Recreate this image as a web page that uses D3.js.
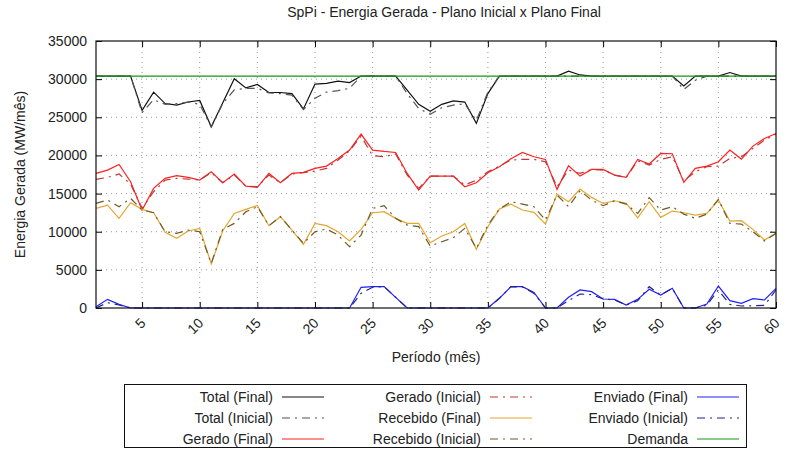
<!DOCTYPE html>
<html>
  <head>
    <meta charset="utf-8">
    <title>SpPi - Energia Gerada</title>
    <style>
      body { margin: 0; background: #fff; }
      text { font-family: "Liberation Sans", Arial, sans-serif; font-size: 14px; fill: #222; }
      .grid line { stroke: #999; stroke-width: 1px; stroke-dasharray: 1,4; }
      .serie { fill: none; stroke-width: 1.2px; }
    </style>
  </head>
  <body>
    <script src="https://d3js.org/d3.v7.min.js"></script>
    <script>
      const width = 791;
      const height = 466;
      const margin = { top: 41, right: 15, bottom: 158, left: 96 };

      // meses 1..60
      const meses = d3.range(1, 61);
      const xTicks = [5, 10, 15, 20, 25, 30, 35, 40, 45, 50, 55, 60];
      const yTicks = [0, 5000, 10000, 15000, 20000, 25000, 30000, 35000];

      const demanda = 30400;

      const totalFinal = [30400, 30400, 30400, 30400, 25900, 28300, 26800, 26600, 27000, 27200,
        23750, 26900, 30050, 28850, 29300, 28250, 28250, 28100, 26100, 29350,
        29450, 29750, 29550, 30400, 30400, 30400, 30400, 28550, 26700, 25800,
        26700, 27150, 27000, 24200, 28100, 30400, 30400, 30400, 30400, 30400,
        30400, 31050, 30550, 30400, 30400, 30400, 30400, 30400, 30400, 30400,
        30400, 29100, 30400, 30400, 30400, 30870, 30400, 30400, 30400, 30400];

      const totalInicial = [30400, 30400, 30400, 30400, 25600, 27300, 26700, 26800, 27000, 26700,
        23700, 26800, 28600, 28800, 28800, 28200, 28100, 27900, 26000, 27500,
        28300, 28500, 28800, 30400, 30400, 30400, 30400, 28100, 26150, 25400,
        26250, 26600, 26750, 24600, 28300, 30400, 30400, 30400, 30400, 30400,
        30400, 30400, 30400, 30400, 30400, 30400, 30400, 30400, 30400, 30400,
        30400, 28650, 29850, 30400, 30400, 30400, 30400, 30400, 30400, 30400];

      const geradoFinal = [17640, 18080, 18820, 16550, 12840, 15680, 16990, 17340, 17120, 16770,
        17860, 16420, 17560, 15980, 15810, 17640, 16420, 17640, 17770, 18300,
        18600, 19610, 20700, 22800, 20700, 20520, 20390, 17640, 15460, 17290,
        17290, 17290, 15900, 16420, 17730, 18520, 19560, 20390, 19830, 19480,
        15550, 18650, 17290, 18170, 18170, 17420, 17120, 19480, 18870, 20260,
        20220, 16460, 18300, 18600, 19170, 20700, 19520, 21220, 22230, 22880];

      const geradoInicial = [16860, 17120, 17560, 16250, 13060, 15240, 16770, 16990, 16900, 16770,
        17730, 16420, 17420, 15980, 15900, 17420, 16420, 17560, 17730, 17950,
        18300, 19390, 20610, 22530, 19960, 19830, 20180, 17420, 15680, 17290,
        17290, 17290, 16120, 16770, 17860, 18600, 19390, 19480, 19480, 19170,
        15900, 18080, 17640, 18170, 18080, 17420, 17120, 19300, 18740, 19480,
        19830, 16680, 17860, 18520, 18600, 19610, 19830, 20920, 22010, 22800];

      const recebidoFinal = [13060, 13490, 11750, 13800, 12930, 12490, 9910, 9130, 10090, 10440,
        5770, 10130, 12400, 12930, 13450, 10790, 11970, 10220, 8340, 11090,
        10790, 10000, 8780, 10310, 12490, 12620, 11750, 11090, 11090, 8560,
        9430, 10000, 11090, 7690, 10660, 12970, 13620, 12840, 12530, 11000,
        14930, 13930, 15590, 14500, 13710, 14060, 13710, 11830, 13930, 11880,
        12710, 12490, 12180, 12400, 14150, 11400, 11440, 10310, 8910, 9780];

      const recebidoInicial = [13710, 14150, 13280, 14370, 12840, 12490, 10000, 9780, 10220, 10000,
        5850, 10310, 11090, 12620, 13280, 10790, 11970, 10220, 8470, 10000,
        10350, 9560, 8030, 9560, 13060, 13410, 11750, 10870, 10660, 8120,
        8690, 9210, 10440, 7820, 10870, 12970, 13930, 13620, 13280, 11530,
        14800, 13280, 15370, 14150, 13410, 14060, 13620, 12400, 14460, 12840,
        13280, 12310, 11750, 12310, 14240, 11090, 11000, 10000, 8780, 9780];

      const enviadoFinal = [150, 1135, 480, 0, 0, 0, 0, 0, 0, 0,
        0, 0, 0, 0, 0, 0, 0, 0, 0, 0,
        0, 0, 0, 2710, 2800, 2800, 1400, 0, 0, 0,
        0, 0, 0, 0, 0, 1270, 2800, 2800, 2050, 0,
        0, 1400, 2360, 2140, 1180, 1135, 390, 1135, 2450, 1700,
        2580, 0, 0, 520, 2880, 960, 610, 1220, 1050, 2580];

      const enviadoInicial = [0, 700, 390, 0, 0, 0, 0, 0, 0, 0,
        0, 0, 0, 0, 0, 0, 0, 0, 0, 0,
        0, 0, 0, 1920, 2710, 2800, 1400, 0, 0, 0,
        0, 0, 0, 0, 0, 1270, 2800, 2750, 1920, 0,
        0, 960, 1830, 1750, 1180, 1050, 390, 960, 2800, 1700,
        2580, 0, 0, 390, 2360, 480, 260, 300, 350, 2360];

      const demandaSerie = meses.map(() => demanda);

      const dashDot = "8,5,2,5";
      const series = [
        { nome: "Total (Final)", valores: totalFinal, cor: "#111111", dash: null },
        { nome: "Total (Inicial)", valores: totalInicial, cor: "#555555", dash: dashDot },
        { nome: "Gerado (Final)", valores: geradoFinal, cor: "#ff2020", dash: null },
        { nome: "Gerado (Inicial)", valores: geradoInicial, cor: "#c03838", dash: dashDot },
        { nome: "Recebido (Final)", valores: recebidoFinal, cor: "#e3a630", dash: null },
        { nome: "Recebido (Inicial)", valores: recebidoInicial, cor: "#6e5a2a", dash: dashDot },
        { nome: "Enviado (Final)", valores: enviadoFinal, cor: "#2020ff", dash: null },
        { nome: "Enviado (Inicial)", valores: enviadoInicial, cor: "#23238a", dash: dashDot },
        { nome: "Demanda", valores: demandaSerie, cor: "#169616", dash: null }
      ];

      const svg = d3.select("body")
        .append("svg")
        .attr("width", width)
        .attr("height", height);

      const x = d3.scaleLinear()
        .domain([1, 60])
        .range([margin.left, width - margin.right]);

      const y = d3.scaleLinear()
        .domain([0, 35000])
        .range([height - margin.bottom, margin.top]);

      const x0 = x.range()[0], x1 = x.range()[1];
      const y0 = y.range()[0], y1 = y.range()[1];

      // grade pontilhada
      const grid = svg.append("g").attr("class", "grid");
      grid.selectAll(".gy")
        .data(yTicks.filter(d => d > 0 && d < 35000))
        .enter().append("line")
        .attr("x1", x0).attr("x2", x1)
        .attr("y1", d => y(d)).attr("y2", d => y(d));
      grid.selectAll(".gx")
        .data(xTicks.filter(d => d < 60))
        .enter().append("line")
        .attr("x1", d => x(d)).attr("x2", d => x(d))
        .attr("y1", y0).attr("y2", y1);

      // eixos com marcas para dentro (estilo gnuplot)
      const tick = 6;
      svg.append("g")
        .attr("transform", `translate(${x0},0)`)
        .call(d3.axisLeft(y).tickValues(yTicks).tickSize(-tick).tickPadding(9).tickFormat(d3.format("d")))
        .call(g => g.select(".domain").remove())
        .call(g => g.selectAll("text").style("font-size", "14px").attr("fill", "#222"));
      svg.append("g")
        .attr("transform", `translate(${x1},0)`)
        .call(d3.axisRight(y).tickValues(yTicks).tickSize(-tick).tickFormat(""))
        .call(g => g.select(".domain").remove());

      const xAxis = svg.append("g")
        .attr("transform", `translate(0,${y0})`)
        .call(d3.axisBottom(x).tickValues(xTicks).tickSize(-tick).tickFormat(d3.format("d")))
        .call(g => g.select(".domain").remove());
      xAxis.selectAll("text")
        .style("font-size", "14px")
        .attr("fill", "#222")
        .attr("text-anchor", "end")
        .attr("dy", null)
        .attr("y", 0)
        .attr("transform", "translate(4,16) rotate(-45)");
      svg.append("g")
        .attr("transform", `translate(0,${y1})`)
        .call(d3.axisTop(x).tickValues(xTicks).tickSize(-tick).tickFormat(""))
        .call(g => g.select(".domain").remove());

      // séries
      const line = d3.line()
        .x((d, i) => x(meses[i]))
        .y(d => y(d));

      svg.selectAll(".serie")
        .data(series)
        .enter().append("path")
        .attr("class", "serie")
        .attr("stroke", d => d.cor)
        .attr("stroke-dasharray", d => d.dash)
        .attr("d", d => line(d.valores));

      // moldura
      svg.append("rect")
        .attr("x", x0).attr("y", y1)
        .attr("width", x1 - x0).attr("height", y0 - y1)
        .attr("fill", "none").attr("stroke", "#111").attr("stroke-width", 1.2);

      // títulos
      svg.append("text")
        .attr("x", 444).attr("y", 17)
        .attr("text-anchor", "middle")
        .text("SpPi - Energia Gerada - Plano Inicial x Plano Final");

      svg.append("text")
        .attr("x", 436).attr("y", 362)
        .attr("text-anchor", "middle")
        .text("Período (mês)");

      svg.append("text")
        .attr("transform", `translate(25,${(y0 + y1) / 2}) rotate(-90)`)
        .attr("text-anchor", "middle")
        .text("Energia Gerada (MW/mês)");

      // legenda
      const leg = svg.append("g");
      leg.append("rect")
        .attr("x", 124.5).attr("y", 384.5)
        .attr("width", 622).attr("height", 63)
        .attr("fill", "none").attr("stroke", "#111").attr("stroke-width", 1);

      const colText = [273, 481, 688];
      const rowY = [397, 418, 439];
      series.forEach((s, i) => {
        const c = Math.floor(i / 3), r = i % 3;
        const g = leg.append("g");
        g.append("text")
          .attr("x", colText[c]).attr("y", rowY[r])
          .attr("dy", "0.35em")
          .attr("text-anchor", "end")
          .text(s.nome);
        g.append("line")
          .attr("x1", colText[c] + 9).attr("x2", colText[c] + 51)
          .attr("y1", rowY[r]).attr("y2", rowY[r])
          .attr("stroke", s.cor)
          .attr("stroke-width", 1.2)
          .attr("stroke-dasharray", s.dash);
      });
    </script>
  </body>
</html>
